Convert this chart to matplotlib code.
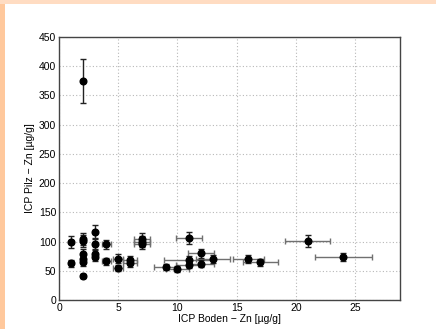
import matplotlib
matplotlib.use("Agg")
import matplotlib.pyplot as plt
from matplotlib.patches import Rectangle

boden_zn = [1.0, 1.0, 2.0, 2.0, 2.0, 2.0, 2.0, 2.0, 2.0, 3.0, 3.0, 3.0, 3.0,
            4.0, 4.0, 5.0, 5.0, 6.0, 6.0, 7.0, 7.0, 7.0, 9.0, 10.0, 11.0,
            11.0, 11.0, 12.0, 12.0, 13.0, 16.0, 17.0, 21.0, 24.0]
pilz_zn = [99, 63, 375, 104, 101, 79, 70, 65, 41, 116, 96, 79, 74,
           95, 66, 71, 55, 68, 63, 104, 100, 96, 57, 53, 106,
           69, 60, 80, 62, 70, 70, 65, 101, 73]
boden_err = [0.15, 0.15, 0.05, 0.1, 0.1, 0.1, 0.1, 0.1, 0.1, 0.15, 0.15, 0.15, 0.15,
             0.4, 0.4, 0.4, 0.4, 0.6, 0.6, 0.7, 0.7, 0.7, 1.0, 1.0, 1.1,
             2.1, 1.1, 1.1, 1.1, 1.4, 1.3, 1.5, 1.9, 2.4]
pilz_err = [10, 6, 38, 10, 10, 8, 7, 7, 3, 12, 10, 8, 7,
            8, 6, 7, 5, 7, 6, 10, 10, 9, 5, 5, 10,
            7, 6, 8, 6, 7, 7, 6, 10, 7]

plt.rcParams['font.family'] = ['Liberation Sans', 'DejaVu Sans']

fig = plt.figure(figsize=(4.36, 3.29), dpi=100, facecolor='white')
fig.patches.append(Rectangle((0, 0), 5/436, 1, transform=fig.transFigure,
                             facecolor='#ffc89c', edgecolor='none', zorder=0))
fig.patches.append(Rectangle((0, 1 - 4/329), 1, 4/329, transform=fig.transFigure,
                             facecolor='#ffdcc2', edgecolor='none', zorder=0))

ax = fig.add_axes([59/436, 29/329, 341/436, 263/329])
ax.errorbar(boden_zn, pilz_zn, xerr=boden_err, fmt='none', ecolor='#707070',
            elinewidth=1.0, capsize=2, capthick=1.0, zorder=2)
ax.errorbar(boden_zn, pilz_zn, yerr=pilz_err, fmt='none', ecolor='#222222',
            elinewidth=1.0, capsize=2, capthick=1.0, zorder=3)
ax.plot(boden_zn, pilz_zn, 'o', color='black', markersize=4.8, zorder=4)

ax.set_xlim(0, 28.8)
ax.set_ylim(0, 450)
ax.set_xticks([0, 5, 10, 15, 20, 25])
ax.set_yticks(range(0, 451, 50))
ax.grid(True, linestyle=(0, (1, 2)), color='#b8b8b8', linewidth=0.8)
ax.set_axisbelow(True)
ax.tick_params(length=0, labelsize=7.5, pad=2)
for s in ax.spines.values():
    s.set_color('#444444')
    s.set_linewidth(1.0)
ax.set_xlabel('ICP Boden − Zn [µg/g]', fontsize=7.5, labelpad=1)
ax.set_ylabel('ICP Pilz − Zn [µg/g]', fontsize=7.5, labelpad=3)

fig.savefig('out.png', dpi=100, facecolor=fig.get_facecolor())
